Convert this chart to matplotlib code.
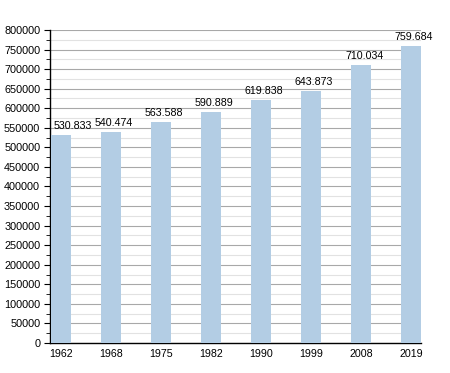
import numpy as np
import matplotlib.pyplot as plt
from matplotlib.ticker import MultipleLocator

plt.rcParams["font.family"] = ["Liberation Sans", "DejaVu Sans"]

years = ["1962", "1968", "1975", "1982", "1990", "1999", "2008", "2019"]
population = [530833, 540474, 563588, 590889, 619838, 643873, 710034, 759684]
labels = ["530.833", "540.474", "563.588", "590.889", "619.838", "643.873", "710.034", "759.684"]

fig = plt.figure(figsize=(4.5, 3.73), dpi=100)
ax = fig.add_axes([0.111, 0.0804, 0.825, 0.8392])

x = np.arange(len(years))
ax.bar(x, population, width=0.4, color="#b3cde4", zorder=3)
for i, (xi, v, lab) in enumerate(zip(x, population, labels)):
    # first label is pushed right so it clears the axis
    dx = 12 if i == 0 else 3
    ax.annotate(lab, (xi, v), xytext=(dx, 4), textcoords="offset pixels",
                ha="center", va="bottom", fontsize=7.7, zorder=4)

ax.set_xlim(-0.22, 7.2)
ax.set_ylim(0, 800000)
ax.set_xticks(x)
ax.set_xticklabels(years, fontsize=7.7)
ax.yaxis.set_major_locator(MultipleLocator(50000))
ax.yaxis.set_minor_locator(MultipleLocator(25000))
ax.tick_params(axis="y", labelsize=7.8, length=4, color="black", pad=3)
ax.tick_params(axis="y", which="minor", length=3)
ax.tick_params(axis="x", length=0, pad=4)
ax.grid(axis="y", which="major", color="#a8a8a8", linewidth=0.8, zorder=0)
ax.grid(axis="y", which="minor", color="#e2e2e2", linewidth=0.8, zorder=0)
for s in ["top", "right"]:
    ax.spines[s].set_visible(False)
ax.spines["left"].set_linewidth(1)
ax.spines["bottom"].set_linewidth(1)

fig.savefig("out.png", dpi=100)
